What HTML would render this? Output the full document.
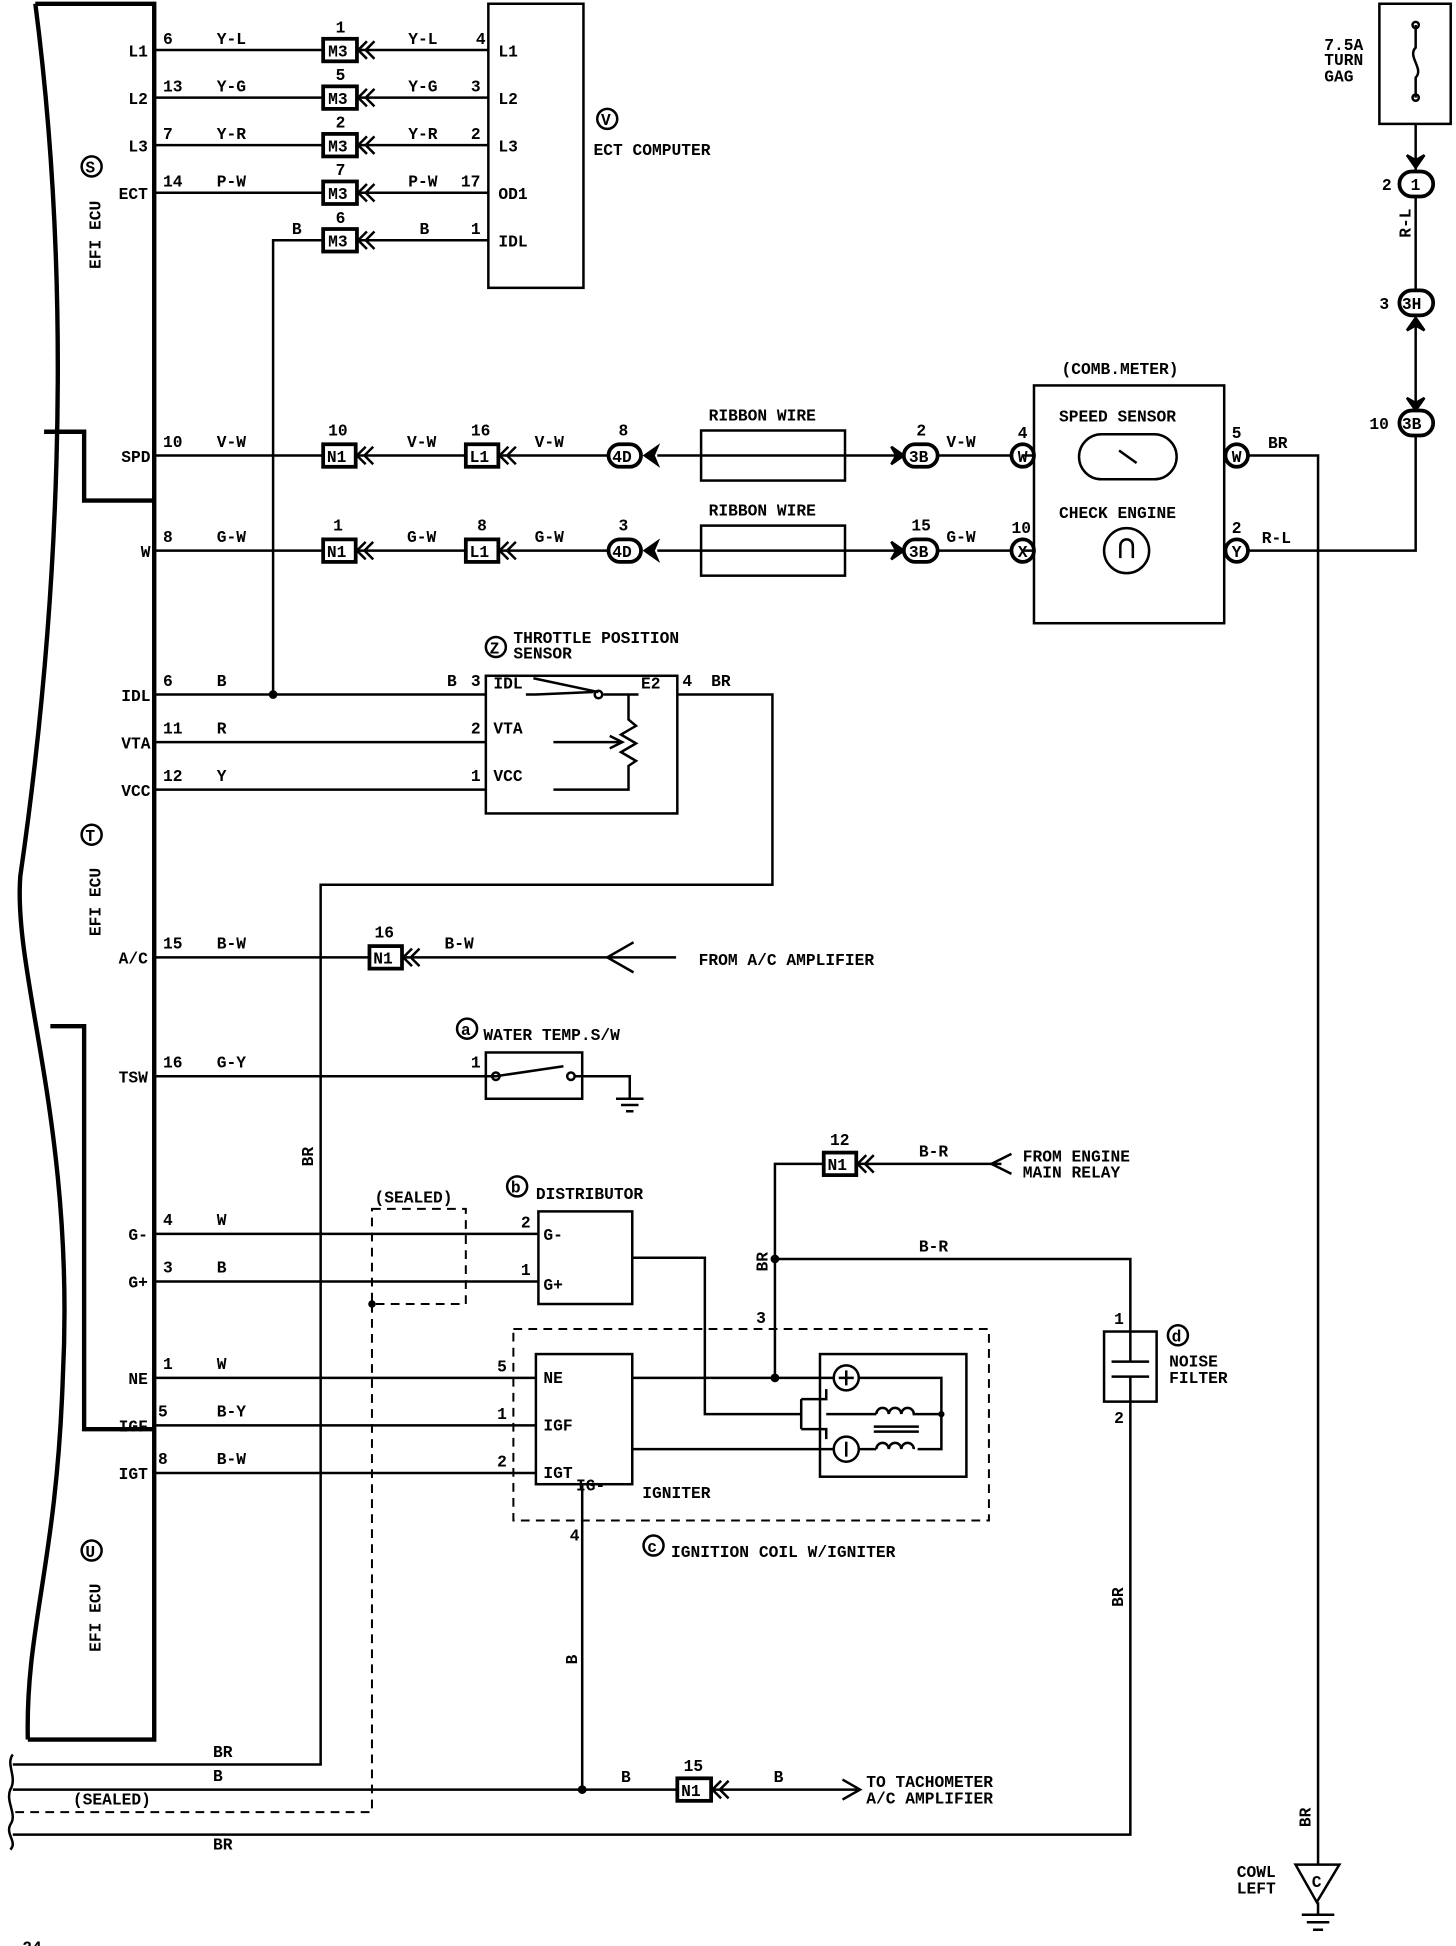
<!DOCTYPE html>
<html><head><meta charset="utf-8"><style>
html,body{margin:0;padding:0;background:#fff}
svg{display:block}
text{font-family:"Liberation Mono",monospace;font-size:13px;font-weight:bold;fill:#000}
.w{stroke:#000;stroke-width:2;fill:none}
.t{stroke:#000;stroke-width:3.5;fill:none}
.d{stroke:#000;stroke-width:1.6;fill:none;stroke-dasharray:7,5}
.bx{stroke:#000;stroke-width:3;fill:#fff}
</style></head><body>
<svg width="1456" height="1946" viewBox="0 0 1163 1555" xmlns="http://www.w3.org/2000/svg">
<defs>
<g id="arr"><path d="M0,-7 L-7,0 L0,7 M6,-7 L-1,0 L6,7" class="w" stroke-width="2.5"/></g>
</defs>
<!-- ECU outline -->
<path class="t" d="M28,3 C60,250 45,500 16,700 C10,780 60,900 50,1100 C45,1250 20,1300 22,1390"/>
<path class="t" d="M28,3 H123 V1390 H22"/>
<path class="t" d="M35,345 H67 V400 H123"/>
<path class="t" d="M40,820 H67 V1142 H123"/>
<text transform="translate(80,215) rotate(-90)">EFI ECU</text>
<circle cx="73" cy="133" r="8" class="w" stroke-width="1.5"/><text x="68" y="138" font-size="10">S</text>
<text transform="translate(80,748) rotate(-90)">EFI ECU</text>
<circle cx="73" cy="667" r="8" class="w" stroke-width="1.5"/><text x="68" y="672" font-size="10">T</text>
<text transform="translate(80,1320) rotate(-90)">EFI ECU</text>
<circle cx="73" cy="1239" r="8" class="w" stroke-width="1.5"/><text x="68" y="1244" font-size="10">U</text>
<!-- ECU pin labels -->
<g text-anchor="end">
<text x="118" y="45">L1</text><text x="118" y="83">L2</text><text x="118" y="121">L3</text><text x="118" y="159">ECT</text>
<text x="120" y="369">SPD</text><text x="120" y="445">W</text>
<text x="120" y="560">IDL</text><text x="120" y="598">VTA</text><text x="120" y="636">VCC</text>
<text x="118" y="770">A/C</text><text x="118" y="865">TSW</text>
<text x="118" y="991">G-</text><text x="118" y="1029">G+</text>
<text x="118" y="1106">NE</text><text x="118" y="1144">IGF</text><text x="118" y="1182">IGT</text>
</g>
<!-- ECT computer -->
<rect x="390" y="3" width="76" height="227" class="w" stroke-width="2.5"/>
<g>
<text x="398" y="45">L1</text><text x="398" y="83">L2</text><text x="398" y="121">L3</text><text x="398" y="159">OD1</text><text x="398" y="197">IDL</text>
<text x="380" y="35">4</text><text x="376" y="73">3</text><text x="376" y="111">2</text><text x="368" y="149">17</text><text x="376" y="187">1</text>
</g>
<circle cx="485" cy="95" r="8" class="w" stroke-width="1.5"/><text x="480" y="100" font-size="10">V</text>
<text x="474" y="124">ECT COMPUTER</text>
<!-- M3 rows -->
<g id="m3rows">
<path class="w" d="M123,40 H258 M285,40 H390"/><rect x="258" y="31" width="27" height="18" class="bx"/><text x="262" y="45">M3</text><use href="#arr" x="293" y="40"/><text x="268" y="26">1</text>
<path class="w" d="M123,78 H258 M285,78 H390"/><rect x="258" y="69" width="27" height="18" class="bx"/><text x="262" y="83">M3</text><use href="#arr" x="293" y="78"/><text x="268" y="64">5</text>
<path class="w" d="M123,116 H258 M285,116 H390"/><rect x="258" y="107" width="27" height="18" class="bx"/><text x="262" y="121">M3</text><use href="#arr" x="293" y="116"/><text x="268" y="102">2</text>
<path class="w" d="M123,154 H258 M285,154 H390"/><rect x="258" y="145" width="27" height="18" class="bx"/><text x="262" y="159">M3</text><use href="#arr" x="293" y="154"/><text x="268" y="140">7</text>
<path class="w" d="M218,555 V192 H258 M285,192 H390"/><rect x="258" y="183" width="27" height="18" class="bx"/><text x="262" y="197">M3</text><use href="#arr" x="293" y="192"/><text x="268" y="178">6</text>
</g>
<text x="130" y="35">6</text><text x="173" y="35">Y-L</text><text x="326" y="35">Y-L</text>
<text x="130" y="73">13</text><text x="173" y="73">Y-G</text><text x="326" y="73">Y-G</text>
<text x="130" y="111">7</text><text x="173" y="111">Y-R</text><text x="326" y="111">Y-R</text>
<text x="130" y="149">14</text><text x="173" y="149">P-W</text><text x="326" y="149">P-W</text>
<text x="233" y="187">B</text><text x="335" y="187">B</text>
<!-- SPD / W rows -->
<g>
<path class="w" d="M123,364 H258 M284,364 H372 M398,364 H486 M525,364 H808"/>
<rect x="258" y="355" width="26" height="18" class="bx"/><text x="261" y="369">N1</text><use href="#arr" x="292" y="364"/><text x="262" y="348">10</text>
<rect x="372" y="355" width="26" height="18" class="bx"/><text x="375" y="369">L1</text><use href="#arr" x="406" y="364"/><text x="376" y="348">16</text>
<rect x="486" y="355" width="26" height="18" rx="9" class="bx"/><text x="489" y="369">4D</text><path d="M515,364 L525,357 L522,364 L525,371Z" stroke="#000" stroke-width="2"/><text x="494" y="348">8</text>
<rect x="560" y="344" width="115" height="40" class="w" stroke-width="3"/><text x="566" y="336">RIBBON WIRE</text>
<path d="M712,357 L722,364 L712,371 L716,364Z" stroke="#000" stroke-width="2"/><rect x="722" y="355" width="27" height="18" rx="9" class="bx"/><text x="726" y="369">3B</text><text x="732" y="348">2</text>
<text x="130" y="357">10</text><text x="173" y="357">V-W</text><text x="325" y="357">V-W</text><text x="427" y="357">V-W</text><text x="756" y="357">V-W</text>
<circle cx="817" cy="364" r="9" class="bx" stroke-width="2"/><text x="813" y="369" font-size="10">W</text><text x="813" y="350">4</text>

<path class="w" d="M123,440 H258 M284,440 H372 M398,440 H486 M525,440 H808"/>
<rect x="258" y="431" width="26" height="18" class="bx"/><text x="261" y="445">N1</text><use href="#arr" x="292" y="440"/><text x="266" y="424">1</text>
<rect x="372" y="431" width="26" height="18" class="bx"/><text x="375" y="445">L1</text><use href="#arr" x="406" y="440"/><text x="381" y="424">8</text>
<rect x="486" y="431" width="26" height="18" rx="9" class="bx"/><text x="489" y="445">4D</text><path d="M515,440 L525,433 L522,440 L525,447Z" stroke="#000" stroke-width="2"/><text x="494" y="424">3</text>
<rect x="560" y="420" width="115" height="40" class="w" stroke-width="3"/><text x="566" y="412">RIBBON WIRE</text>
<path d="M712,433 L722,440 L712,447 L716,440Z" stroke="#000" stroke-width="2"/><rect x="722" y="431" width="27" height="18" rx="9" class="bx"/><text x="726" y="445">3B</text><text x="728" y="424">15</text>
<text x="130" y="433">8</text><text x="173" y="433">G-W</text><text x="325" y="433">G-W</text><text x="427" y="433">G-W</text><text x="756" y="433">G-W</text>
<circle cx="817" cy="440" r="9" class="bx" stroke-width="2"/><text x="813" y="445" font-size="10">X</text><text x="808" y="426">10</text>
</g>
<!-- Comb meter -->
<rect x="826" y="308" width="152" height="190" class="w" stroke-width="3"/>
<text x="848" y="299">(COMB.METER)</text>
<text x="846" y="337">SPEED SENSOR</text>
<rect x="862" y="347" width="78" height="36" rx="18" class="w" stroke-width="2.5"/><path class="w" d="M894,360 L908,370"/>
<text x="846" y="414">CHECK ENGINE</text>
<circle cx="900" cy="440" r="18" class="w" stroke-width="2.5"/><path class="w" d="M895,446 V436 A5,5 0 0 1 905,436 V446"/>
<path class="w" d="M817,364 H826 M817,440 H826 M978,364 H988 M978,440 H988"/>
<circle cx="988" cy="364" r="9" class="bx" stroke-width="2"/><text x="984" y="369" font-size="10">W</text><text x="984" y="350">5</text>
<circle cx="988" cy="440" r="9" class="bx" stroke-width="2"/><text x="984" y="445" font-size="10">Y</text><text x="984" y="426">2</text>
<path class="w" d="M997,364 H1053 V1490"/><text x="1013" y="358">BR</text>
<path class="w" d="M997,440 H1131 V99"/><text x="1008" y="434">R-L</text>
<!-- fuse -->
<rect x="1102" y="3" width="57" height="96" class="w" stroke-width="3"/>
<path class="w" d="M1131,20 V38 C1124,45 1138,55 1131,62 V78"/><circle cx="1131" cy="20" r="2.5" class="w"/><circle cx="1131" cy="78" r="2.5" class="w"/>
<text x="1058" y="40" font-size="12">7.5A</text><text x="1058" y="52" font-size="12">TURN</text><text x="1058" y="65" font-size="12">GAG</text>
<path d="M1124,124 L1131,134 L1138,124 L1131,128Z" stroke="#000" stroke-width="2"/>
<rect x="1118" y="137" width="27" height="20" rx="10" class="bx"/><text x="1127" y="152">1</text><text x="1104" y="152">2</text>
<text transform="translate(1127,190) rotate(-90)">R-L</text>
<rect x="1118" y="232" width="27" height="20" rx="10" class="bx"/><text x="1120" y="247">3H</text><text x="1102" y="247">3</text>
<path d="M1124,264 L1131,254 L1138,264 L1131,260Z" stroke="#000" stroke-width="2"/>
<path d="M1124,318 L1131,328 L1138,318 L1131,322Z" stroke="#000" stroke-width="2"/>
<rect x="1118" y="328" width="27" height="20" rx="10" class="bx"/><text x="1120" y="343">3B</text><text x="1094" y="343">10</text>
<!-- Throttle -->
<rect x="388" y="540" width="153" height="110" class="w" stroke-width="2.5"/>
<circle cx="396" cy="517" r="8" class="w" stroke-width="1.5"/><text x="391" y="522" font-size="10">Z</text>
<text x="410" y="514">THROTTLE POSITION</text><text x="410" y="526">SENSOR</text>
<path class="w" d="M123,555 H388 M123,593 H388 M123,631 H388"/><circle cx="218" cy="555" r="3.5"/>
<text x="130" y="548">6</text><text x="173" y="548">B</text><text x="357" y="548">B</text><text x="376" y="548">3</text>
<text x="130" y="586">11</text><text x="173" y="586">R</text><text x="376" y="586">2</text>
<text x="130" y="624">12</text><text x="173" y="624">Y</text><text x="376" y="624">1</text>
<text x="394" y="550">IDL</text><text x="394" y="586">VTA</text><text x="394" y="624">VCC</text><text x="512" y="550">E2</text>
<path class="w" d="M420,555 H428 L474,553 M482,555 H510"/><circle cx="478" cy="555" r="3" class="w"/>
<path class="w" d="M426,542 L478,553"/>
<path class="w" d="M502,555 V575 L508,580 L496,587 L508,594 L496,601 L508,608 L502,612 V631 H442"/>
<path class="w" d="M442,593 H495"/><path d="M487,588 L497,593 L487,598" class="w"/>
<path class="w" d="M541,555 H617 V707 H256 V1410 H10"/><text x="545" y="548">4</text><text x="568" y="548">BR</text>
<text transform="translate(250,932) rotate(-90)">BR</text>
<!-- A/C -->
<path class="w" d="M123,765 H295 M321,765 H540"/><rect x="295" y="756" width="26" height="18" class="bx"/><text x="298" y="770">N1</text><use href="#arr" x="329" y="765"/><text x="299" y="749">16</text>
<path class="w" d="M506,753 L485,765 L506,777"/>
<text x="130" y="758">15</text><text x="173" y="758">B-W</text><text x="355" y="758">B-W</text>
<text x="558" y="771">FROM A/C AMPLIFIER</text>
<!-- water temp -->
<path class="w" d="M123,860 H388"/><text x="130" y="853">16</text><text x="173" y="853">G-Y</text><text x="376" y="853">1</text>
<rect x="388" y="841" width="77" height="37" class="w" stroke-width="2.5"/>
<path class="w" d="M388,860 H396 L450,852 M458,860 H465"/><circle cx="396" cy="860" r="3" class="w"/><circle cx="456" cy="860" r="3" class="w"/>
<path class="w" d="M465,860 H503 V878 M492,878 H514 M496,883 H510 M500,888 H506"/>
<circle cx="373" cy="822" r="8" class="w" stroke-width="1.5"/><text x="368" y="827" font-size="10">a</text><text x="386" y="831">WATER TEMP.S/W</text>
<!-- distributor -->
<rect x="297" y="966" width="75" height="76" class="d"/><text x="299" y="961">(SEALED)</text>
<path class="d" d="M297,1042 V1448 H10"/><circle cx="297" cy="1042" r="3"/>
<text x="58" y="1442">(SEALED)</text>
<rect x="430" y="968" width="75" height="74" class="w" stroke-width="2.5"/>
<circle cx="413" cy="948" r="8" class="w" stroke-width="1.5"/><text x="408" y="953" font-size="10">b</text><text x="428" y="958">DISTRIBUTOR</text>
<path class="w" d="M123,986 H430 M123,1024 H430"/>
<text x="130" y="979">4</text><text x="173" y="979">W</text><text x="416" y="981">2</text><text x="434" y="991">G-</text>
<text x="130" y="1017">3</text><text x="173" y="1017">B</text><text x="416" y="1019">1</text><text x="434" y="1031">G+</text>
<path class="w" d="M505,1005 H563 V1130 H640"/>
<!-- igniter -->
<rect x="410" y="1062" width="380" height="153" class="d"/>
<rect x="428" y="1082" width="77" height="104" class="w" stroke-width="2.5"/>
<text x="434" y="1105">NE</text><text x="434" y="1143">IGF</text><text x="434" y="1181">IGT</text><text x="460" y="1191">IG-</text>
<text x="513" y="1197">IGNITER</text>
<path class="w" d="M123,1101 H428 M123,1139 H428 M123,1177 H428"/>
<text x="130" y="1094">1</text><text x="173" y="1094">W</text><text x="397" y="1096">5</text>
<text x="126" y="1132">5</text><text x="173" y="1132">B-Y</text><text x="397" y="1134">1</text>
<text x="126" y="1170">8</text><text x="173" y="1170">B-W</text><text x="397" y="1172">2</text>
<rect x="655" y="1082" width="117" height="98" class="w" stroke-width="2.5"/>
<path class="w" d="M505,1101 H666 M505,1158 H666"/><circle cx="619" cy="1101" r="3.5"/>
<circle cx="676" cy="1101" r="10" class="w"/><path class="w" d="M670,1101 H682 M676,1095 V1107"/>
<circle cx="676" cy="1158" r="10" class="w"/><path class="w" d="M676,1152 V1164"/>
<path class="w" d="M640,1118 V1142 M640,1118 H660 V1110 M640,1142 H660 V1150"/>
<path class="w" d="M686,1101 H752 V1158 H733 M686,1158 H700"/>
<path class="w" d="M700,1130 a5,5 0 0 1 10,0 a5,5 0 0 1 10,0 a5,5 0 0 1 10,0 H752 M700,1158 a5,5 0 0 1 10,0 a5,5 0 0 1 10,0 a5,5 0 0 1 10,0 M698,1140 H734 M698,1144 H734"/>
<path class="w" d="M660,1130 H700"/>
<circle cx="752" cy="1130" r="2.5"/>
<circle cx="522" cy="1235" r="8" class="w" stroke-width="1.5"/><text x="517" y="1240" font-size="10">c</text><text x="536" y="1244">IGNITION COIL W/IGNITER</text>
<path class="w" d="M465,1186 V1430"/><text x="455" y="1231">4</text>
<text transform="translate(461,1330) rotate(-90)">B</text>
<!-- relay -->
<path class="w" d="M619,1101 V930 H658 M684,930 H800"/><rect x="658" y="921" width="26" height="18" class="bx"/><text x="661" y="935">N1</text><use href="#arr" x="692" y="930"/><text x="663" y="915">12</text>
<text x="734" y="924">B-R</text><path class="w" d="M808,922 L792,930 L808,938"/>
<text x="817" y="928">FROM ENGINE</text><text x="817" y="941">MAIN RELAY</text>
<text transform="translate(613,1016) rotate(-90)">BR</text><text x="604" y="1057">3</text>
<path class="w" d="M619,1006 H903 V1064"/><circle cx="619" cy="1006" r="3.5"/><text x="734" y="1000">B-R</text>
<!-- noise filter -->
<rect x="882" y="1064" width="42" height="56" class="w" stroke-width="2.5"/>
<path class="w" d="M903,1064 V1088 M888,1088 H918 M888,1100 H918 M903,1100 V1120"/>
<text x="890" y="1058">1</text><text x="890" y="1137">2</text>
<circle cx="941" cy="1067" r="8" class="w" stroke-width="1.5"/><text x="936" y="1072" font-size="10">d</text>
<text x="934" y="1092">NOISE</text><text x="934" y="1105">FILTER</text>
<path class="w" d="M903,1120 V1466 H10"/><text transform="translate(897,1284) rotate(-90)">BR</text>
<text x="170" y="1478">BR</text>
<!-- bottom -->
<path class="w" d="M10,1430 H541 M568,1430 H686"/><circle cx="465" cy="1430" r="3.5"/>
<rect x="541" y="1421" width="27" height="18" class="bx"/><text x="544" y="1435">N1</text><use href="#arr" x="576" y="1430"/><text x="546" y="1415">15</text>
<path class="w" d="M673,1422 L687,1430 L673,1438"/>
<text x="496" y="1424">B</text><text x="618" y="1424">B</text><text x="170" y="1423">B</text><text x="170" y="1404">BR</text>
<text x="692" y="1428">TO TACHOMETER</text><text x="692" y="1441">A/C AMPLIFIER</text>
<path class="w" d="M10,1402 C4,1410 14,1420 8,1430 C4,1440 14,1450 8,1458 C4,1466 14,1472 8,1478"/>
<!-- ground -->
<text transform="translate(1047,1460) rotate(-90)">BR</text>
<path class="w" d="M1035,1490 H1070 L1052,1520 Z M1053,1520 V1530 M1040,1530 H1066 M1044,1536 H1062 M1049,1542 H1057" stroke-width="2.5"/>
<text x="1048" y="1508" font-size="11">C</text>
<text x="988" y="1500">COWL</text><text x="988" y="1513">LEFT</text>
<text x="2" y="1560">- 24 -</text>
</svg>
</body></html>
